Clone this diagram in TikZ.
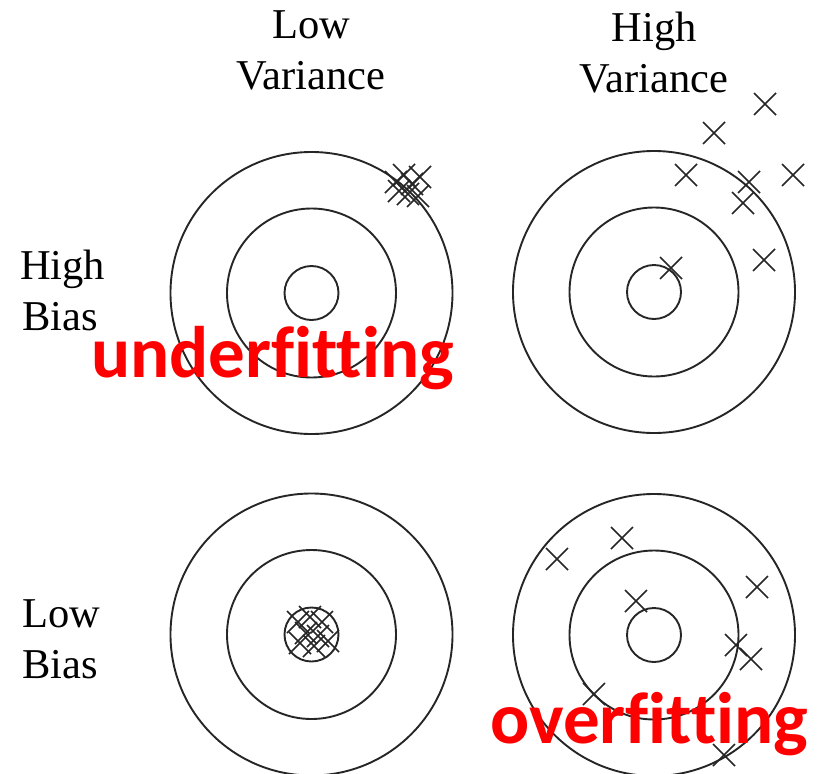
\documentclass[tikz,border=0pt]{standalone}
\usepackage{fontspec}
\setmainfont{Liberation Serif}
\newfontfamily\calib[Ligatures={NoCommon,NoContextual}]{Carlito}
\tikzset{
  ring/.style={draw=black!85, line width=1.9pt},
  lbl/.style={inner sep=0pt, font=\fontsize{42.5}{50}\selectfont, text=black},
  fitlbl/.style={inner sep=0pt, font=\calib\bfseries\fontsize{73}{80}\selectfont, text=red},
  xm/.pic={\draw[line width=1.7pt, black!85] (-11,-11) -- (11,11) (-11,11) -- (11,-11);}
}
\begin{document}
\begin{tikzpicture}[x=1pt, y=-1pt]
\useasboundingbox (0,0) rectangle (825,774);
\begin{scope}
\clip (0,0) rectangle (825,774);
% targets
\foreach \cx/\cy in {311.5/293, 654/292, 311.5/634.5, 654/635}{
  \draw[ring] (\cx,\cy) circle[radius=141];
  \draw[ring] (\cx,\cy) circle[radius=84.5];
  \draw[ring] (\cx,\cy) circle[radius=27];
}
% top-left cluster (high bias, low variance)
\foreach \p in {(396,182),(404,175),(412,184),(420,177),(408,194),(418,196),(399,191)}
  \pic at \p {xm};
% top-right (high bias, high variance)
\foreach \p in {(765,104),(714,133),(686,175),(749,182),(793,175),(743,203),(764,260),(671,268)}
  \pic at \p {xm};
% bottom-left cluster (low bias, low variance)
\foreach \p in {(298,622),(310,617),(322,622),(306,633),(318,636),(328,641),(300,643),(314,646)}
  \pic at \p {xm};
% bottom-right (low bias, high variance)
\foreach \p in {(557,559),(622,538),(757,587),(636,601),(736,645),(751,659),(594,694),(724,755)}
  \pic at \p {xm};
\end{scope}
% column headers
\node[lbl, anchor=base] (lowv1) at (311,38) {Low};
\node[lbl, anchor=base] (lowv2) at (311,89) {Variance};
\node[lbl, anchor=base] (highv1) at (654,41) {High};
\node[lbl, anchor=base] (highv2) at (654,92) {Variance};
% row headers
\node[lbl, anchor=base west] (highb1) at (20,279) {High};
\node[lbl, anchor=base west] (highb2) at (22,330) {Bias};
\node[lbl, anchor=base west] (lowb1) at (22,627) {Low};
\node[lbl, anchor=base west] (lowb2) at (22,678) {Bias};
% red labels
\node[fitlbl, anchor=base west] (under) at (91,377) {underfitting};
\node[fitlbl, anchor=base west] (over) at (490,743) {overfitting};
\end{tikzpicture}
\end{document}
